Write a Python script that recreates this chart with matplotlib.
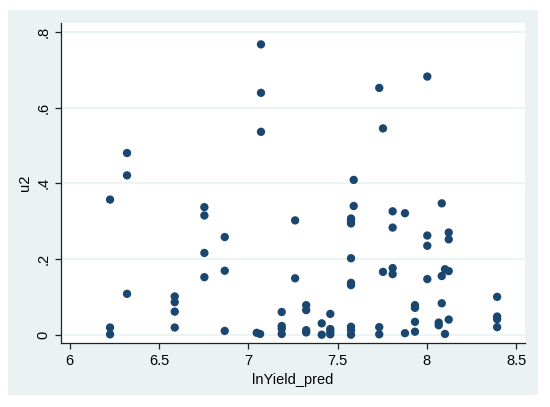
import matplotlib
matplotlib.use("Agg")
import matplotlib.pyplot as plt
from matplotlib.patches import Rectangle

# values (x = lnYield_pred, y = u2)
x_vals = [6.226, 6.226, 6.226,
          6.321, 6.321, 6.321,
          6.588, 6.588, 6.588, 6.588,
          6.754, 6.754, 6.754, 6.754,
          6.868, 6.868, 6.868,
          7.047, 7.066, 7.071, 7.071, 7.071,
          7.187, 7.187, 7.187, 7.187,
          7.262, 7.262,
          7.324, 7.324, 7.324, 7.324,
          7.411, 7.411,
          7.459, 7.459, 7.459, 7.459,
          7.575, 7.575, 7.575, 7.575, 7.575, 7.575, 7.575, 7.575, 7.575,
          7.59, 7.59,
          7.733, 7.733, 7.733,
          7.754, 7.754,
          7.808, 7.808, 7.808, 7.808,
          7.877, 7.877,
          7.933, 7.933, 7.933, 7.933,
          8.002, 8.002, 8.002, 8.002,
          8.066, 8.066,
          8.083, 8.083, 8.083,
          8.101, 8.101,
          8.122, 8.122, 8.122, 8.122,
          8.393, 8.393, 8.393, 8.393]
y_vals = [0.357, 0.019, 0.001,
          0.480, 0.421, 0.108,
          0.101, 0.086, 0.061, 0.019,
          0.337, 0.315, 0.216, 0.152,
          0.258, 0.169, 0.010,
          0.005, 0.002, 0.767, 0.639, 0.536,
          0.060, 0.023, 0.016, 0.002,
          0.302, 0.149,
          0.078, 0.065, 0.012, 0.006,
          0.030, 0.000,
          0.055, 0.015, 0.008, 0.001,
          0.307, 0.301, 0.294, 0.202, 0.137, 0.131, 0.021, 0.012, 0.000,
          0.409, 0.340,
          0.652, 0.020, 0.001,
          0.545, 0.166,
          0.326, 0.283, 0.176, 0.160,
          0.321, 0.004,
          0.078, 0.071, 0.034, 0.008,
          0.682, 0.262, 0.235, 0.147,
          0.032, 0.025,
          0.347, 0.155, 0.083,
          0.173, 0.002,
          0.270, 0.252, 0.168, 0.040,
          0.100, 0.048, 0.041, 0.020]

x_ticks = [6, 6.5, 7, 7.5, 8, 8.5]
x_labels = ["6", "6.5", "7", "7.5", "8", "8.5"]
y_ticks = [0, 0.2, 0.4, 0.6, 0.8]
y_labels = ["0", ".2", ".4", ".6", ".8"]

plt.rcParams["font.family"] = ["Liberation Sans", "DejaVu Sans"]

W, H = 550, 407
fig = plt.figure(figsize=(W / 100, H / 100), dpi=100, facecolor="white")
# stata-like outer graph region, drawn behind the axes
fig.add_artist(Rectangle((8 / W, 1 - 395 / H), (538 - 8) / W, (395 - 10) / H,
                         transform=fig.transFigure, facecolor="#eaf2f3",
                         edgecolor="none", zorder=-10))

ax = fig.add_axes([61.3 / W, 1 - 343.3 / H, (525 - 61.3) / W, (343.3 - 23.3) / H])
ax.set_facecolor("white")
ax.scatter(x_vals, y_vals, s=36, color="#1a476f", edgecolors="none", zorder=3)

ax.set_xlim(5.953, 8.549)
ax.set_ylim(-0.0227, 0.8227)
ax.set_xticks(x_ticks)
ax.set_xticklabels(x_labels)
ax.set_yticks(y_ticks)
ax.set_yticklabels(y_labels, rotation=90, va="center")
for yt in y_ticks:
    ax.axhline(yt, color="#eaf2f3", lw=1.2, zorder=1)

for s in ["top", "right"]:
    ax.spines[s].set_visible(False)
for s in ["left", "bottom"]:
    ax.spines[s].set_color("#222222")
    ax.spines[s].set_linewidth(0.9)
ax.tick_params(direction="out", length=4, width=0.9, color="#222222",
               labelsize=10.5, pad=4)

ax.set_xlabel("lnYield_pred", fontsize=10.5, labelpad=3)
ax.set_ylabel("u2", fontsize=10.5, labelpad=3)

fig.savefig("out.png", dpi=100, facecolor="white")
